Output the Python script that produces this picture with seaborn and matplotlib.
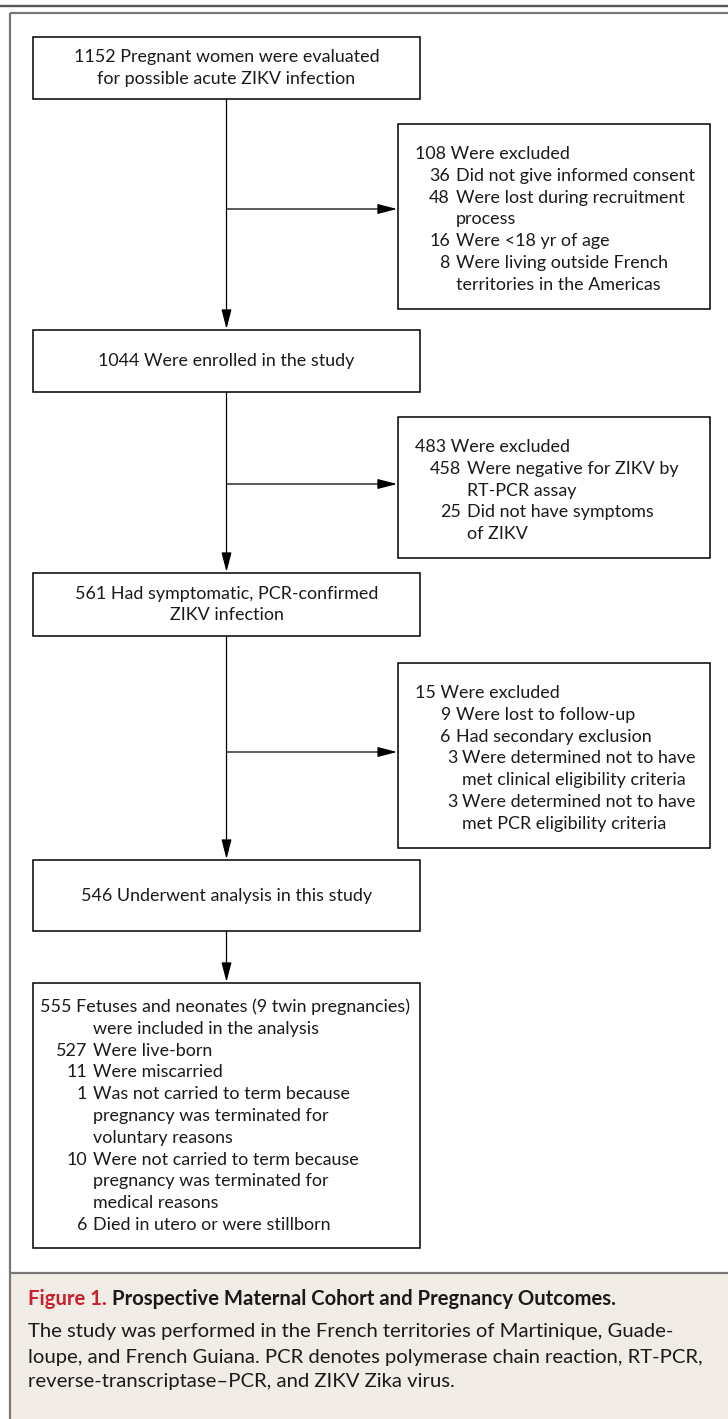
import matplotlib
matplotlib.use("Agg")
import matplotlib.pyplot as plt
import seaborn as sns
from matplotlib.patches import Rectangle

sns.set_theme(style="white")
plt.rcParams['font.family'] = ['Lato', 'DejaVu Sans']

# ---- data: the flow of the cohort ----
main_counts = [1152, 1044, 561, 546]
main_labels = [
    ["Pregnant women were evaluated", "for possible acute ZIKV infection"],
    ["Were enrolled in the study"],
    ["Had symptomatic, PCR-confirmed", "ZIKV infection"],
    ["Underwent analysis in this study"],
]

excl_totals = [108, 483, 15]
# (count or None, level, text)  -- level 1 = sub item, 2 = sub-sub item
excl_items = [
    [(36, 1, "Did not give informed consent"),
     (48, 1, "Were lost during recruitment"),
     (None, 1, "process"),
     (16, 1, "Were <18 yr of age"),
     (8, 1, "Were living outside French"),
     (None, 1, "territories in the Americas")],
    [(458, 1, "Were negative for ZIKV by"),
     (None, 1, "RT-PCR assay"),
     (25, 1, "Did not have symptoms"),
     (None, 1, "of ZIKV")],
    [(9, 1, "Were lost to follow-up"),
     (6, 1, "Had secondary exclusion"),
     (3, 2, "Were determined not to have"),
     (None, 2, "met clinical eligibility criteria"),
     (3, 2, "Were determined not to have"),
     (None, 2, "met PCR eligibility criteria")],
]

outcome_total = 555
outcome_items = [
    (None, "Fetuses and neonates (9 twin pregnancies)"),
    (None, "were included in the analysis"),
    (527, "Were live-born"),
    (11, "Were miscarried"),
    (1, "Was not carried to term because"),
    (None, "pregnancy was terminated for"),
    (None, "voluntary reasons"),
    (10, "Were not carried to term because"),
    (None, "pregnancy was terminated for"),
    (None, "medical reasons"),
    (6, "Died in utero or were stillborn"),
]

caption_title = "Figure 1."
caption_bold = "Prospective Maternal Cohort and Pregnancy Outcomes."
caption_lines = [
    "The study was performed in the French territories of Martinique, Guade-",
    "loupe, and French Guiana. PCR denotes polymerase chain reaction, RT-PCR,",
    "reverse-transcriptase\u2013PCR, and ZIKV Zika virus.",
]

# ---- layout (pixels) ----
W, H = 728, 1419
FS = 12.9
CFS = 14.6
LS = 21.8
main_x0, main_x1 = 33, 420
cx = 226.5
excl_x0, excl_x1 = 398, 710
main_boxes = [(37, 99), (330, 392), (573, 636), (860, 931)]
excl_tops = [124, 417, 663]
excl_arrow_y = [209, 484, 752]
out_box = (983, 1248)
ink = "#1a1a1a"

fig = plt.figure(figsize=(W / 100, H / 100), dpi=100)
ax = fig.add_axes([0, 0, 1, 1])
ax.set_xlim(0, W)
ax.set_ylim(H, 0)
ax.axis("off")

# page frame
ax.plot([0, W], [5.5, 5.5], color="#555555", lw=1.7, solid_capstyle="butt")
ax.plot([9.5, W], [12.5, 12.5], color="#777777", lw=1.6, solid_capstyle="butt")
ax.plot([9.5, 9.5], [12.5, H], color="#777777", lw=1.6, solid_capstyle="butt")
ax.add_patch(Rectangle((10.3, 1273), W, H - 1273, facecolor="#f2ece6", edgecolor="none"))
ax.plot([9.5, W], [1273, 1273], color="#777777", lw=1.6, solid_capstyle="butt")


def box(x0, y0, x1, y1):
    ax.add_patch(Rectangle((x0, y0), x1 - x0, y1 - y0, facecolor="white",
                           edgecolor="black", lw=1.1, zorder=2))


def arrow(x0, y0, x1, y1):
    ax.annotate("", xy=(x1, y1), xytext=(x0, y0),
                arrowprops=dict(arrowstyle="-|>,head_length=0.85,head_width=0.22",
                                lw=0.9, color="black", shrinkA=0, shrinkB=0,
                                mutation_scale=14))


# main column
for (y0, y1), n, lab in zip(main_boxes, main_counts, main_labels):
    box(main_x0, y0, main_x1, y1)
    lines = [f"{n} {lab[0]}"] + lab[1:]
    yc = (y0 + y1) / 2 - (len(lines) - 1) * LS / 2
    for i, ln in enumerate(lines):
        ax.text(cx, yc + i * LS, ln, ha="center", va="center", fontsize=FS,
                color=ink, zorder=3)

all_tops = [b[0] for b in main_boxes] + [out_box[0]]
all_bots = [b[1] for b in main_boxes]
for yb, yt in zip(all_bots, all_tops[1:]):
    arrow(cx, yb, cx, yt - 1)

# exclusion boxes
num_right = {1: 450, 2: 458}
txt_left = {1: 456, 2: 462}
for top, ay, tot, items in zip(excl_tops, excl_arrow_y, excl_totals, excl_items):
    n = len(items) + 1
    bot = top + 30 + (n - 1) * LS + 24
    box(excl_x0, top, excl_x1, bot)
    arrow(cx, ay, excl_x0 - 1, ay)
    y = top + 30
    ax.text(415, y, f"{tot} Were excluded", ha="left", va="center", fontsize=FS,
            color=ink, zorder=3)
    shift = 11 if tot == 483 else 0
    for cnt, lvl, txt in items:
        y += LS
        if cnt is not None:
            ax.text(num_right[lvl] + shift, y, str(cnt), ha="right", va="center",
                    fontsize=FS, color=ink, zorder=3)
        ax.text(txt_left[lvl] + shift, y, txt, ha="left", va="center",
                fontsize=FS, color=ink, zorder=3)

# outcome box
box(main_x0, out_box[0], main_x1, out_box[1])
y = out_box[0] + 24
for i, (cnt, txt) in enumerate(outcome_items):
    if i == 0:
        ax.text(40, y, f"{outcome_total} {txt}", ha="left", va="center",
                fontsize=FS, color=ink, zorder=3)
    else:
        if cnt is not None:
            ax.text(87, y, str(cnt), ha="right", va="center", fontsize=FS,
                    color=ink, zorder=3)
        ax.text(93, y, txt, ha="left", va="center", fontsize=FS,
                color=ink, zorder=3)
    y += LS

# caption
t1 = ax.text(28, 1299, caption_title + " ", ha="left", va="center", fontsize=CFS,
             fontweight="bold", color="#c8202f")
ax.annotate(caption_bold, xy=(1, 0.5), xycoords=t1, ha="left", va="center",
            fontsize=CFS, fontweight="bold", color=ink)
for i, ln in enumerate(caption_lines):
    ax.text(28, 1332 + i * 25, ln, ha="left", va="center", fontsize=CFS,
            color=ink)

fig.savefig("out.png", dpi=100)
